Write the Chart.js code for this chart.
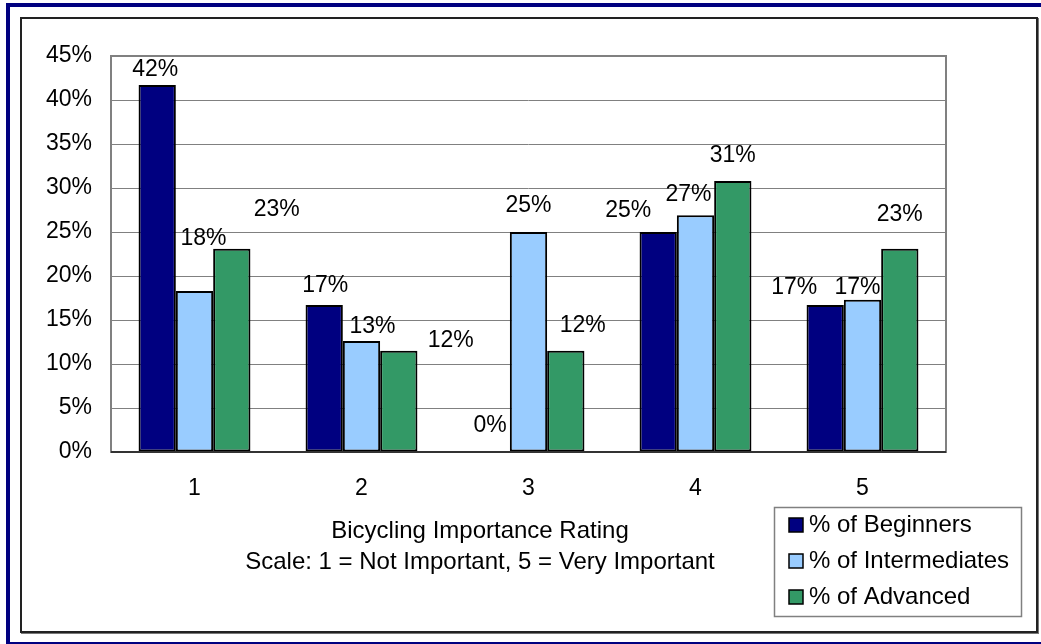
<!DOCTYPE html>
<html>
<head>
<meta charset="utf-8">
<style>
  body { margin: 0; background: #fff; overflow: hidden; }
  #navy { position: absolute; left: 6px; top: 3px; width: 1100px; height: 643px; box-sizing: border-box; border: 4px solid #000080; }
  #frame { position: absolute; left: 20px; top: 17px; width: 1018px; height: 616px; box-sizing: border-box; border: 2px solid #222; box-shadow: 1px 1px 0 #777; }
  #chart { position: absolute; left: 0; top: 0; }
</style>
</head>
<body>
<div id="navy"></div>
<div id="frame"></div>
<canvas id="chart" width="1041" height="644"></canvas>

<script src="https://cdn.jsdelivr.net/npm/chart.js"></script>
<script>
const ratings = ['1', '2', '3', '4', '5'];
const beginners = [41.7, 16.7, 0, 25.0, 16.7];
const intermediates = [18.3, 12.6, 25.0, 26.9, 17.3];
const advanced = [23.1, 11.5, 11.5, 30.8, 23.1];
const yTicks = [0, 5, 10, 15, 20, 25, 30, 35, 40, 45];

const FONT = 'Liberation Sans, Arial, sans-serif';

// label nudges (dx, dy from bar top centre) to sit where the original put them
const labelNudge = [
  [[-2, -15], [1, -19], [-1, -26], [-30, -21], [-31, -17]],
  [[9, -52], [11, -14], [0, -26], [-7, -21], [-5, -12]],
  [[45, -39], [52, -10], [17, -25], [0, -25], [0, -34]]
];

const extras = {
  id: 'extras',
  beforeDatasetsDraw(chart) {
    const { ctx, chartArea: a } = chart;
    ctx.save();
    ctx.strokeStyle = '#808080';
    ctx.lineWidth = 2;
    ctx.strokeRect(a.left, a.top, a.right - a.left, a.bottom - a.top);
    ctx.restore();
  },
  afterDatasetsDraw(chart) {
    const { ctx, chartArea: a } = chart;
    ctx.save();
    ctx.strokeStyle = '#333';
    ctx.lineWidth = 2;
    ctx.beginPath();
    ctx.moveTo(a.left, a.bottom);
    ctx.lineTo(a.right, a.bottom);
    ctx.stroke();

    ctx.font = '23px ' + FONT;
    ctx.fillStyle = '#000';
    ctx.textAlign = 'center';
    ctx.textBaseline = 'middle';
    chart.data.datasets.forEach((ds, di) => {
      chart.getDatasetMeta(di).data.forEach((bar, i) => {
        const n = labelNudge[di][i];
        ctx.fillText(Math.round(ds.data[i]) + '%', bar.x + n[0], bar.y + n[1]);
      });
    });

    // axis title
    ctx.font = '24px ' + FONT;
    ctx.fillText('Bicycling Importance Rating', 480, 531);
    ctx.fillText('Scale: 1 = Not Important, 5 = Very Important', 480, 562);

    // legend
    ctx.strokeStyle = '#808080';
    ctx.lineWidth = 1.5;
    ctx.strokeRect(774.5, 507.5, 247, 109);
    ctx.textAlign = 'left';
    chart.data.datasets.forEach((ds, di) => {
      const y = 525 + di * 36;
      ctx.fillStyle = ds.backgroundColor;
      ctx.fillRect(789, y - 7, 14, 14);
      ctx.strokeStyle = '#000';
      ctx.lineWidth = 1.5;
      ctx.strokeRect(789, y - 7, 14, 14);
      ctx.fillStyle = '#000';
      ctx.fillText(ds.label, 809, y);
    });
    ctx.restore();
  }
};

new Chart(document.getElementById('chart'), {
  type: 'bar',
  data: {
    labels: ratings,
    datasets: [
      { label: '% of Beginners', data: beginners, backgroundColor: '#000080' },
      { label: '% of Intermediates', data: intermediates, backgroundColor: '#99CCFF' },
      { label: '% of Advanced', data: advanced, backgroundColor: '#339966' }
    ]
  },
  options: {
    responsive: false,
    animation: false,
    devicePixelRatio: 1,
    layout: { padding: { left: 0, top: 56, right: 95, bottom: 0 } },
    datasets: {
      bar: {
        borderColor: '#000',
        borderWidth: 2,
        borderSkipped: false,
        barPercentage: 1,
        categoryPercentage: 0.67
      }
    },
    plugins: {
      legend: { display: false },
      tooltip: { enabled: false }
    },
    scales: {
      x: {
        grid: { display: false },
        border: { display: false },
        ticks: { color: '#000', font: { family: FONT, size: 23 }, padding: 15 },
        afterFit(s) { s.height = 192; }
      },
      y: {
        min: 0,
        max: 45,
        afterBuildTicks(s) { s.ticks = yTicks.map(v => ({ value: v })); },
        grid: { color: '#808080', lineWidth: 1, drawTicks: false },
        border: { display: false },
        ticks: {
          color: '#000',
          font: { family: FONT, size: 23 },
          padding: 19,
          callback: v => v + '%'
        },
        afterFit(s) { s.width = 111; }
      }
    }
  },
  plugins: [extras]
});
</script>
</body>
</html>
